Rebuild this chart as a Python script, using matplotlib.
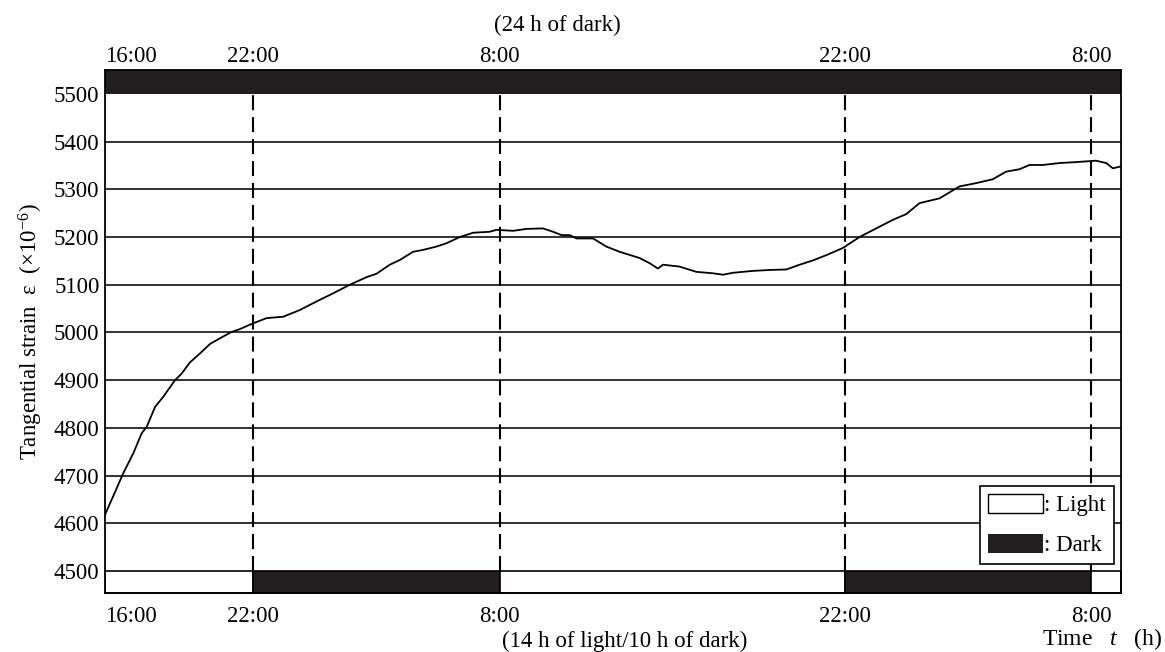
import matplotlib
matplotlib.use("Agg")
import matplotlib.pyplot as plt
from matplotlib.patches import Patch

# ---------------- data ----------------
hours = [0, 0.41, 0.74, 1.15, 1.49, 1.69, 2.03, 2.36, 2.84, 3.11, 3.44, 3.85,
         4.26, 4.67, 5.13, 5.47, 5.95, 6.55, 7.23, 7.9, 8.58, 9.25, 9.93,
         10.61, 11.01, 11.55, 11.96, 12.49, 12.9, 13.44, 13.85, 14.39, 14.93,
         15.6, 15.87, 16.55, 17.09, 17.76, 18.17, 18.51, 18.84, 19.12, 19.79,
         20.33, 20.87, 21.68, 22.09, 22.42, 22.63, 23.3, 23.98, 24.65, 25.06,
         25.46, 26.27, 27.0, 27.63, 28.17, 28.71, 29.25, 29.92, 30.6, 31.27,
         31.95, 32.49, 33.03, 33.84, 34.65, 35.33, 36.0, 36.54, 37.08, 37.49,
         38.03, 38.7, 39.38, 40.19, 40.6, 40.87, 41.2]
strain = [4618, 4666, 4705, 4747, 4789, 4802, 4844, 4865, 4900, 4914, 4937, 4956,
          4976, 4988, 5001, 5007, 5018, 5030, 5033, 5047, 5065, 5082, 5100,
          5116, 5123, 5142, 5152, 5169, 5173, 5180, 5187, 5200, 5209,
          5211, 5215, 5213, 5217, 5218, 5211, 5204, 5204, 5197, 5197,
          5180, 5169, 5156, 5145, 5134, 5142, 5138, 5127, 5124, 5121,
          5125, 5129, 5131, 5132, 5142, 5151, 5162, 5177, 5200, 5218,
          5236, 5248, 5271, 5281, 5306, 5313, 5321, 5337, 5342, 5351,
          5351, 5355, 5357, 5360, 5355, 5344, 5348]

tick_hours = [0, 6, 16, 30, 40]
tick_labels = ["16:00", "22:00", "8:00", "22:00", "8:00"]
yticks = [4500, 4600, 4700, 4800, 4900, 5000, 5100, 5200, 5300, 5400, 5500]

cycle_start = [0, 6, 16, 30, 40]
cycle_end = [6, 16, 30, 40, 41.2]
cycle_state = ["light", "dark", "light", "dark", "light"]

# ---------------- style ----------------
plt.rcParams['font.family'] = ['Liberation Serif', 'DejaVu Serif']
plt.rcParams['mathtext.fontset'] = 'custom'
plt.rcParams['mathtext.rm'] = 'Liberation Serif'
plt.rcParams['mathtext.it'] = 'Liberation Serif:italic'
plt.rcParams['lines.scale_dashes'] = False

DARK = '#231f20'
FS = 16.5

fig = plt.figure(figsize=(11.65, 6.52), dpi=100)
ax = fig.add_axes([105/1165, 1-593/652, (1121-105)/1165, (593-70)/652])

xmax = 41.2
ymin, ymax = 4454, 5550
ax.set_xlim(0, xmax)
ax.set_ylim(ymin, ymax)

# gridlines
for y in yticks[1:-1]:
    ax.axhline(y, color='#222222', lw=1.3, zorder=1)

# top dark band (24 h of dark)
ax.axhspan(5500, ymax, color=DARK, zorder=2, lw=0)

# bottom light/dark band
for s, e, st in zip(cycle_start, cycle_end, cycle_state):
    fc = DARK if st == 'dark' else 'white'
    ax.broken_barh([(s, e - s)], (ymin, 4500 - ymin), facecolors=fc,
                   edgecolors='black', linewidth=1.2, zorder=2)

# dashed transition lines
ax.vlines(tick_hours[1:], 4500, 5500, colors='black', linewidth=1.5,
          linestyles=[(0, (10.8, 5.0))], zorder=1.5)

# curve
ax.plot(hours, strain, color='black', lw=1.3, zorder=3)

# y axis
ax.set_yticks(yticks)
ax.set_yticklabels([str(v) for v in yticks], fontsize=FS)
ax.tick_params(axis='y', length=0, pad=4)
ax.set_ylabel("Tangential strain  ε  (×10$^{-6}$)", fontsize=16.5, labelpad=6)

# bottom x ticks
ax.set_xticks(tick_hours)
ax.set_xticklabels(tick_labels, fontsize=FS)
ax.tick_params(axis='x', length=0, pad=9)
ax.get_xticklabels()[0].set_ha('left')

# top x ticks
sec = ax.secondary_xaxis('top')
sec.set_xticks(tick_hours)
sec.set_xticklabels(tick_labels, fontsize=FS)
sec.tick_params(axis='x', length=0, pad=2.5)
sec.get_xticklabels()[0].set_ha('left')
for sp in sec.spines.values():
    sp.set_visible(False)

for sp in ax.spines.values():
    sp.set_color('black')
    sp.set_linewidth(1.3)
    sp.set_zorder(4)

# annotations
fig.text(557/1165, 1-25/652, "(24 h of dark)", ha='center', va='center', fontsize=FS)
fig.text(625/1165, 1-641/652, "(14 h of light/10 h of dark)", ha='center',
         va='center', fontsize=FS)
fig.text(1042/1165, 1-639/652, r"Time   $t$   (h)", ha='left', va='center', fontsize=17)

# legend
handles = [Patch(facecolor='white', edgecolor='black', lw=1.0, label=': Light'),
           Patch(facecolor=DARK, edgecolor=DARK, lw=0, label=': Dark')]
leg = ax.legend(handles=handles, loc='lower right',
                bbox_to_anchor=(0.993, 0.0555), fontsize=FS, frameon=True,
                fancybox=False, framealpha=1, edgecolor='black',
                handlelength=2.4, handleheight=0.9, handletextpad=0.05,
                labelspacing=0.75, borderpad=0.35, borderaxespad=0)
leg.get_frame().set_linewidth(1.2)
leg.set_zorder(5)

fig.savefig("out.png", dpi=100)
